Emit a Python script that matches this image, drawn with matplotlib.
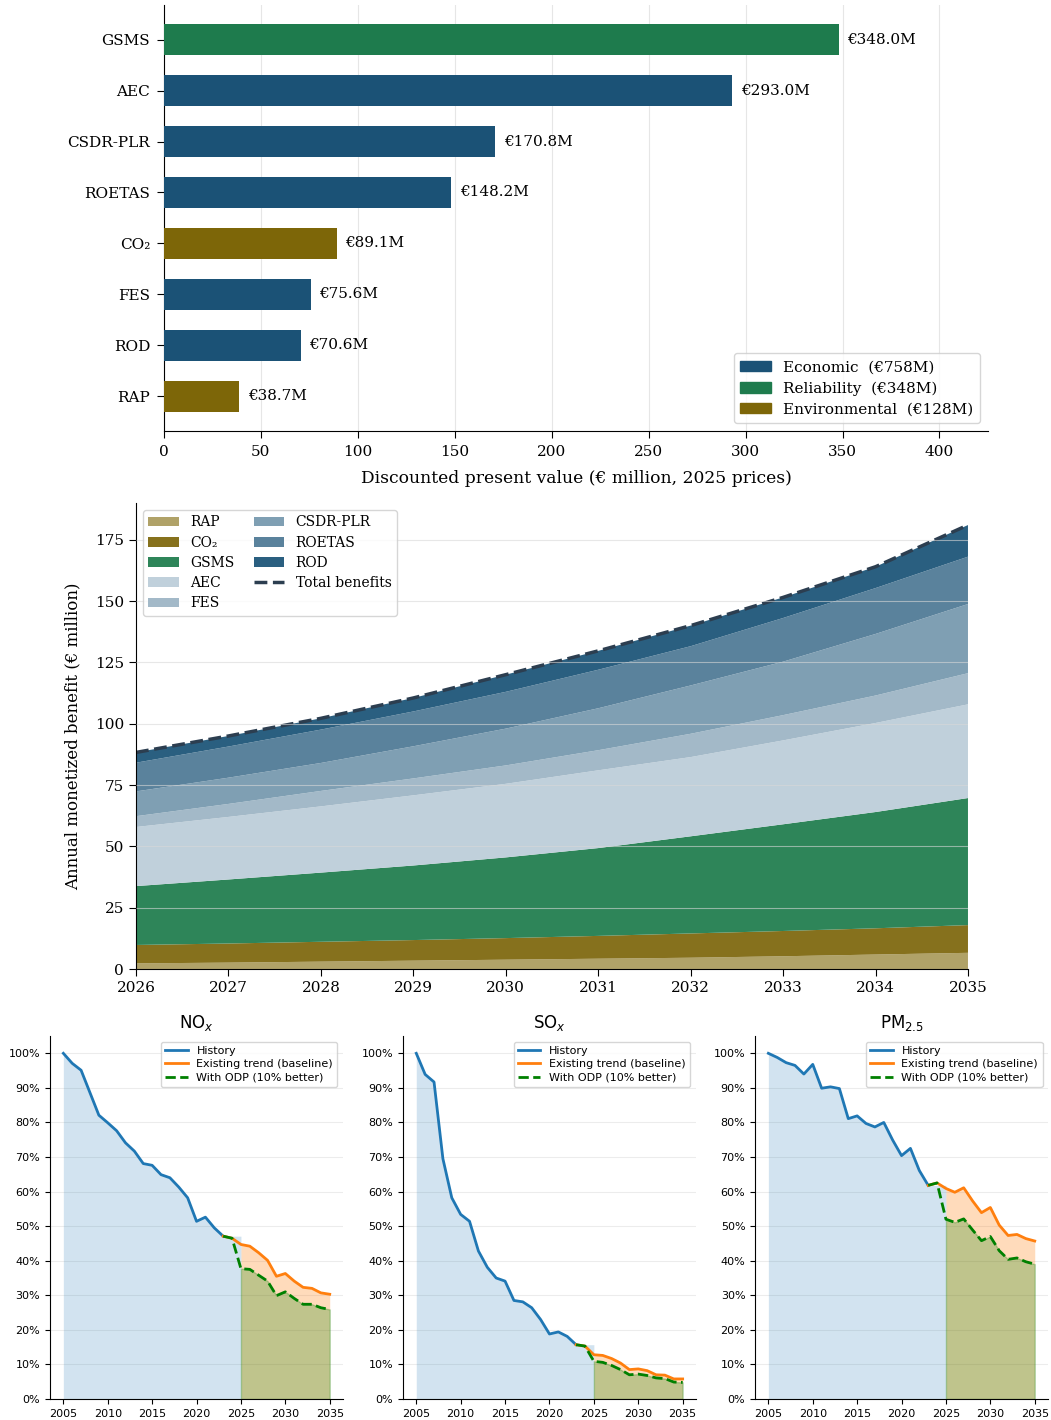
import numpy as np
import matplotlib
matplotlib.use("Agg")
import matplotlib.pyplot as plt
from matplotlib.patches import Patch
from matplotlib.ticker import PercentFormatter

# ---- top: present value by benefit ----
pv_names = ["GSMS", "AEC", "CSDR-PLR", "ROETAS", "CO₂", "FES", "ROD", "RAP"]
pv_values = [348.0, 293.0, 170.8, 148.2, 89.1, 75.6, 70.6, 38.7]
pv_group = ["Reliability", "Economic", "Economic", "Economic",
            "Environmental", "Economic", "Economic", "Environmental"]
group_names = ["Economic", "Reliability", "Environmental"]
group_totals = [758, 348, 128]
group_colors = {"Economic": "#1b5276", "Reliability": "#1e7b4d",
                "Environmental": "#7d6608"}

# ---- middle: annual monetized benefit ----
years = [2026, 2027, 2028, 2029, 2030, 2031, 2032, 2033, 2034, 2035]
layer_names = ["RAP", "CO₂", "GSMS", "AEC", "FES", "CSDR-PLR", "ROETAS", "ROD"]
rap = [2.3, 2.6, 3.0, 3.4, 3.8, 4.2, 4.6, 5.2, 5.9, 6.6]
co2 = [7.5, 7.8, 8.1, 8.4, 8.8, 9.3, 9.9, 10.3, 10.7, 11.3]
gsms = [24.0, 26.1, 28.2, 30.4, 32.9, 35.8, 39.6, 43.5, 47.4, 51.8]
aec = [24.1, 25.5, 27.0, 28.6, 30.0, 31.7, 32.3, 34.2, 36.3, 38.2]
fes = [4.4, 5.3, 6.3, 6.9, 7.5, 8.2, 9.5, 10.3, 11.2, 12.7]
csdr = [10.1, 10.7, 11.4, 13.1, 15.0, 17.1, 19.7, 21.8, 25.1, 28.2]
roetas = [11.7, 12.7, 13.6, 14.2, 15.0, 15.7, 16.0, 17.8, 18.7, 19.3]
rod = [4.2, 4.3, 4.6, 5.5, 7.0, 7.7, 8.4, 8.4, 8.7, 12.9]
layer_colors = ["#b0a268", "#86711d", "#2e8559", "#c0d0db",
                "#a3b9c8", "#7f9fb3", "#5a829c", "#2a5f80"]

# ---- bottom: emissions index (2005 = 100%) ----
hist_years = list(range(2005, 2024))
proj_years = list(range(2023, 2036))
nox_hist = [100, 97.1, 95.1, 88.6, 82.1, 79.9, 77.6, 74.1, 71.7, 68.1,
            67.6, 64.9, 64.0, 61.3, 58.2, 51.4, 52.6, 49.5, 47.1]
nox_base = [47.1, 46.5, 44.7, 44.2, 42.3, 40.1, 35.5, 36.3, 34.1, 32.3, 32.0, 30.7, 30.3]
nox_odp = [47.1, 46.5, 37.7, 37.5, 35.8, 34.1, 29.9, 31.0, 29.1, 27.4, 27.4, 26.4, 25.9]
sox_hist = [100, 93.9, 91.7, 69.5, 58.2, 53.4, 51.4, 42.8, 38.1, 35.0,
            34.1, 28.5, 28.1, 26.4, 23.0, 18.8, 19.4, 18.1, 15.7]
sox_base = [15.7, 15.3, 12.8, 12.6, 11.7, 10.4, 8.5, 8.7, 8.2, 7.0, 6.9, 5.8, 5.8]
sox_odp = [15.7, 15.3, 10.9, 10.6, 9.7, 8.5, 7.0, 7.2, 6.8, 6.1, 5.9, 4.9, 4.8]
pm_hist = [100, 98.8, 97.3, 96.5, 94.0, 96.8, 89.9, 90.3, 89.8, 81.1,
           81.9, 79.7, 78.7, 80.0, 74.9, 70.4, 72.5, 66.1, 61.8]
pm_base = [61.8, 62.5, 60.9, 59.8, 61.1, 57.3, 53.9, 55.4, 50.3, 47.3, 47.6, 46.4, 45.7]
pm_odp = [61.8, 62.5, 52.0, 51.1, 52.1, 48.9, 45.8, 47.0, 42.9, 40.4, 40.8, 39.7, 39.0]
pollutants = [("NO$_x$", nox_hist, nox_base, nox_odp),
              ("SO$_x$", sox_hist, sox_base, sox_odp),
              ("PM$_{2.5}$", pm_hist, pm_base, pm_odp)]

fig = plt.figure(figsize=(10.51, 14.2), dpi=100)

# top bar chart
serif = "DejaVu Serif"
ax1 = fig.add_axes([0.156, 0.6965, 0.784, 0.300])
ypos = np.arange(len(pv_names))[::-1]
ax1.barh(ypos, pv_values, height=0.6,
         color=[group_colors[g] for g in pv_group], zorder=3)
for y, v in zip(ypos, pv_values):
    ax1.text(v + 4.5, y, f"€{v:.1f}M", va="center", ha="left",
             fontsize=11, family=serif)
ax1.set_yticks(ypos)
ax1.set_yticklabels(pv_names, family=serif, fontsize=11)
ax1.set_xlim(0, 425)
ax1.set_xticks([0, 50, 100, 150, 200, 250, 300, 350, 400])
for lab in ax1.get_xticklabels():
    lab.set_family(serif)
ax1.tick_params(axis="x", labelsize=11)
ax1.tick_params(length=5, pad=5)
ax1.set_xlabel("Discounted present value (€ million, 2025 prices)",
               family=serif, fontsize=12.3, labelpad=8)
ax1.grid(axis="x", color="#e6e6e6", lw=0.8, zorder=0)
ax1.spines["top"].set_visible(False)
ax1.spines["right"].set_visible(False)
handles = [Patch(color=group_colors[g], label=f"{g}  (€{t}M)")
           for g, t in zip(group_names, group_totals)]
ax1.legend(handles=handles, loc="lower right", prop={"family": serif, "size": 11},
           handlelength=2.0, borderpad=0.45, labelspacing=0.45)

# middle stacked area
ax2 = fig.add_axes([0.1294, 0.3176, 0.7916, 0.3282])
layers = [rap, co2, gsms, aec, fes, csdr, roetas, rod]
ax2.stackplot(years, *layers, colors=layer_colors, labels=layer_names, lw=0)
total = np.sum(np.array(layers), axis=0)
ax2.plot(years, total, ls="--", color="#2c3e50", lw=2.5, label="Total benefits")
ax2.set_xlim(2026, 2035)
ax2.set_ylim(0, 190)
ax2.set_xticks(years)
ax2.set_yticks([0, 25, 50, 75, 100, 125, 150, 175])
for lab in ax2.get_xticklabels() + ax2.get_yticklabels():
    lab.set_family(serif)
ax2.tick_params(labelsize=11, length=5)
ax2.set_ylabel("Annual monetized benefit (€ million)", family=serif,
               fontsize=12, labelpad=10)
ax2.set_axisbelow(False)
ax2.grid(axis="y", color="#d8d8d8", lw=0.8, alpha=0.6)
ax2.spines["top"].set_visible(False)
ax2.spines["right"].set_visible(False)
ax2.legend(loc="upper left", ncol=2, prop={"family": serif, "size": 10},
           handlelength=2.2, columnspacing=1.4, labelspacing=0.45)

# bottom emissions panels
lefts = [0.0476, 0.3834, 0.7184]
for left, (title, hist, base, odp) in zip(lefts, pollutants):
    ax = fig.add_axes([left, 0.0148, 0.2788, 0.2556])
    fill_x = hist_years + [2024, 2025]
    fill_y = hist + [hist[-1], hist[-1]]
    ax.fill_between(fill_x, 0, fill_y, color="#1f77b4", alpha=0.2, lw=0)
    fx = proj_years[2:]
    ax.fill_between(fx, 0, base[2:], color="#ff7f0e", alpha=0.28, lw=0)
    ax.fill_between(fx, 0, odp[2:], color="green", alpha=0.25, lw=1)
    ax.plot(hist_years, hist, color="#1f77b4", lw=2, label="History")
    ax.plot(proj_years, base, color="#ff7f0e", lw=2, label="Existing trend (baseline)")
    ax.plot(proj_years, odp, color="green", lw=2, ls="--", label="With ODP (10% better)")
    ax.set_ylim(0, 105)
    ax.set_yticks(range(0, 101, 10))
    ax.yaxis.set_major_formatter(PercentFormatter(decimals=0))
    ax.set_xticks(range(2005, 2036, 5))
    ax.tick_params(labelsize=8)
    ax.grid(axis="y", color="#e8e8e8", lw=0.8, alpha=0.8)
    ax.set_axisbelow(True)
    ax.spines["top"].set_visible(False)
    ax.spines["right"].set_visible(False)
    ax.set_title(title, fontsize=12)
    ax.legend(loc="upper right", fontsize=8, labelspacing=0.3, borderpad=0.4)

fig.savefig("out.png", dpi=100)
